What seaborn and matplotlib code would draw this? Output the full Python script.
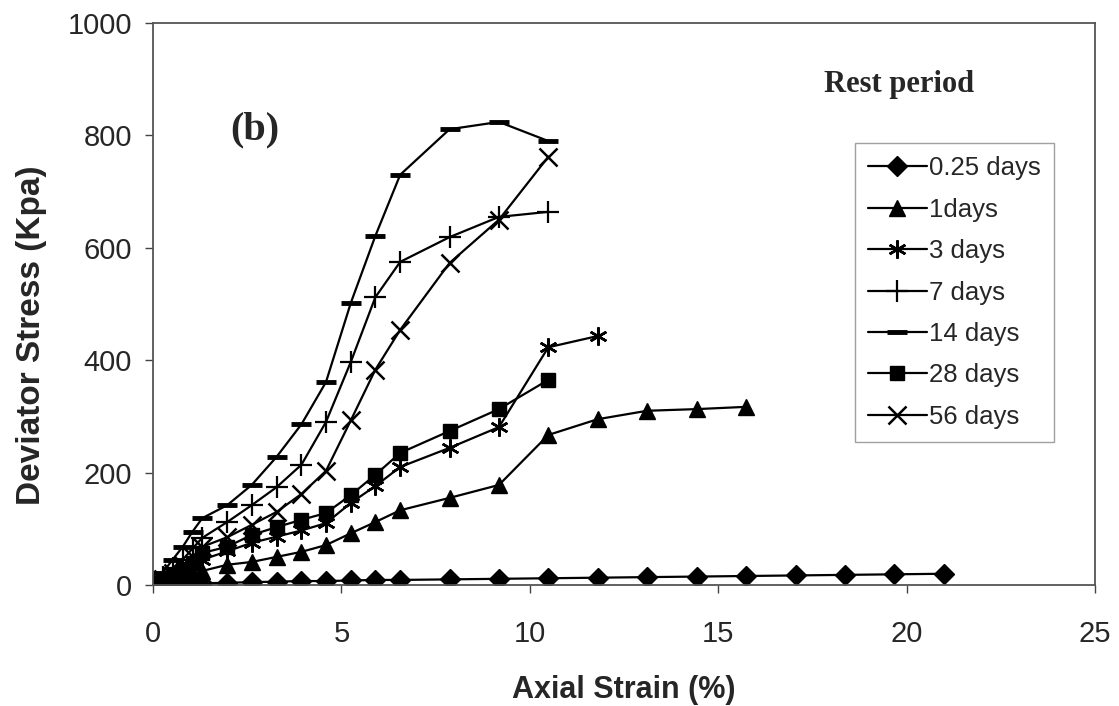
import matplotlib
matplotlib.use("Agg")
import matplotlib.pyplot as plt
import seaborn as sns
import pandas as pd

# ---- data ----
strain = [0, 0.26, 0.52, 0.79, 1.05, 1.31, 1.97, 2.62, 3.28, 3.94, 4.59, 5.25,
          5.90, 6.56, 7.87, 9.18, 10.49, 11.80, 13.11, 14.43, 15.74, 17.05,
          18.36, 19.67, 20.98]

labels = ["0.25 days", "1days", "3 days", "7 days", "14 days", "28 days", "56 days"]

stress_025 = [0, 1, 2, 2, 3, 3, 4, 5, 6, 7, 7, 8, 9, 9, 10, 11, 12, 13, 14, 15,
              16, 17, 18, 19, 20]
stress_1 = [0, 4, 9, 14, 20, 25, 36, 41, 50, 59, 71, 92, 112, 133, 155, 178,
            267, 295, 310, 313, 317]
stress_3 = [0, 7, 15, 25, 35, 45, 60, 75, 86, 97, 110, 146, 176, 210, 244, 281,
            423, 443]
stress_7 = [0, 15, 30, 45, 65, 84, 112, 142, 174, 214, 290, 397, 512, 575, 619,
            655, 664]
stress_14 = [0, 22, 45, 68, 95, 119, 142, 178, 228, 286, 361, 502, 621, 730,
             811, 824, 790]
stress_28 = [0, 8, 18, 28, 40, 57, 68, 89, 103, 116, 128, 160, 196, 235, 274,
             313, 365]
stress_56 = [0, 10, 22, 35, 50, 68, 85, 107, 130, 162, 203, 293, 383, 454, 573,
             650, 762]

series = [stress_025, stress_1, stress_3, stress_7, stress_14, stress_28, stress_56]

x_ticks = [0, 5, 10, 15, 20, 25]
y_ticks = [0, 200, 400, 600, 800, 1000]

# ---- style ----
sns.set_style("white")
plt.rcParams["font.family"] = ["Liberation Sans", "DejaVu Sans"]

markers = ["D", "^", (6, 2, 0), "+", "_", "s", "x"]
msizes = [10, 11, 13, 16, 15, 10, 13]
mews = [1, 1, 1.8, 1.6, 3.5, 1, 1.8]

fig = plt.figure(figsize=(11.19, 7.06), dpi=100)
ax = fig.add_axes([0.1367, 0.1714, 0.8420, 0.7960])

for lab, ys, mk, ms, mw in zip(labels, series, markers, msizes, mews):
    df = pd.DataFrame({"strain": strain[:len(ys)], "stress": ys})
    sns.lineplot(data=df, x="strain", y="stress", ax=ax, color="black",
                 marker=mk, markersize=ms, markeredgewidth=mw,
                 markeredgecolor="black", markerfacecolor="black",
                 linewidth=1.6, label=lab, sort=False, errorbar=None)

ax.set_xlim(0, 25)
ax.set_ylim(0, 1000)
ax.set_xticks(x_ticks)
ax.set_yticks(y_ticks)
ax.tick_params(axis="both", labelsize=21, direction="out", length=6,
               width=1, color="#444444", left=True, bottom=True)
ax.tick_params(axis="x", pad=19)
ax.tick_params(axis="y", pad=9)
for s in ax.spines.values():
    s.set_color("#555555")
    s.set_linewidth(1.3)

ax.set_xlabel("Axial Strain (%)", fontsize=22, fontweight="bold", labelpad=20)
ax.set_ylabel("Deviator Stress (Kpa)", fontsize=24, fontweight="bold")
ax.yaxis.set_label_coords(-0.112, 0.445)

ax.text(2.7, 810, "(b)", fontsize=29, fontweight="bold",
        family=["Liberation Serif", "DejaVu Serif"], ha="center", va="center")
ax.text(19.8, 890, "Rest period", fontsize=22, fontweight="bold",
        family=["Liberation Serif", "DejaVu Serif"], ha="center", va="center")

leg = ax.legend(loc="upper left", bbox_to_anchor=(0.745, 0.786), fontsize=18.5,
                frameon=True, fancybox=False, edgecolor="#888888",
                handlelength=2.3, handletextpad=0.1, labelspacing=0.68,
                borderpad=0.5, borderaxespad=0)
leg.get_frame().set_linewidth(1.0)

fig.savefig("out.png", dpi=100)
